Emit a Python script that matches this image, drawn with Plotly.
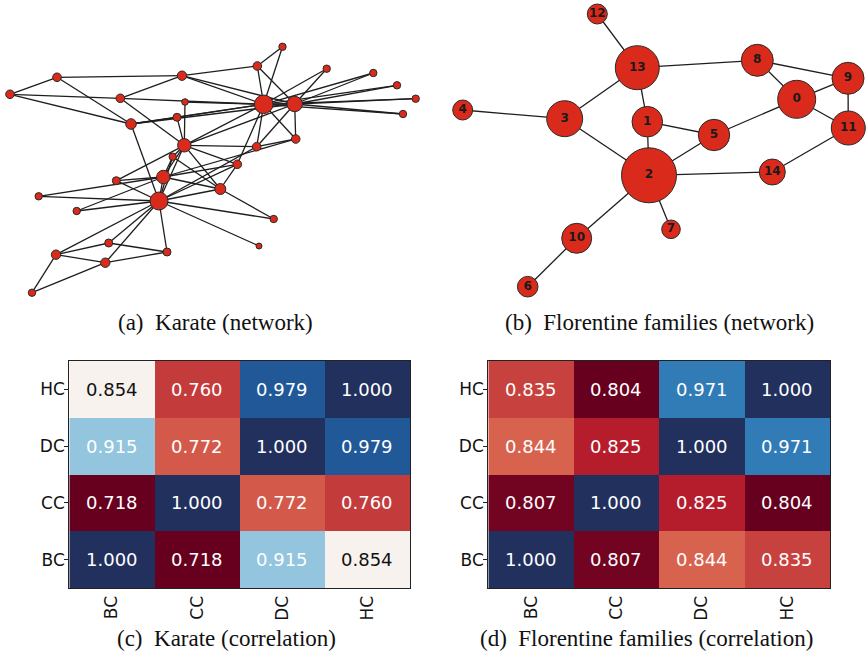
import plotly.graph_objects as go

W, H = 866, 652

# ---------------- Karate network (node layout positions) ----------------
karate_nodes = list(range(1, 35))
karate_x = [159, 163.3, 184.3, 220.3, 167, 56, 105.3, 172.7, 256.7, 185,
            108.7, 259, 273.7, 237.3, 326.7, 373.3, 32, 38.7, 397, 116.3,
            415.7, 76.7, 403, 182, 10, 57, 282.5, 120.3, 177, 257.3,
            295.7, 131, 294.7, 263.7]
karate_y = [201, 177, 145.3, 189, 252, 254.7, 262.7, 156.7, 146.7, 102,
            243, 246, 219, 164.3, 68.7, 73, 292.7, 196.3, 85.3, 180.7,
            98.7, 211, 114, 75.7, 94.3, 77.3, 46.8, 98.3, 117.3, 66,
            139, 124, 104, 104.3]
karate_size = [18, 13.4, 13.4, 11, 8, 9.4, 9.4, 7.4, 8.6, 6.6,
               8, 6, 7.4, 8.6, 7.4, 7.4, 7.4, 7.4, 7.4, 8,
               7.4, 7.4, 7.4, 9.4, 8.6, 8.6, 7.4, 8.6, 8, 8.6,
               8.6, 10.6, 15.4, 18.6]
karate_edges = [
    (1, 2), (1, 3), (1, 4), (1, 5), (1, 6), (1, 7), (1, 8), (1, 9), (1, 11), (1, 12),
    (1, 13), (1, 14), (1, 18), (1, 20), (1, 22), (1, 32),
    (2, 3), (2, 4), (2, 8), (2, 14), (2, 18), (2, 20), (2, 22), (2, 31),
    (3, 4), (3, 8), (3, 9), (3, 10), (3, 14), (3, 28), (3, 29), (3, 33),
    (4, 8), (4, 13), (4, 14),
    (5, 7), (5, 11), (6, 7), (6, 11), (6, 17), (7, 17),
    (9, 31), (9, 33), (9, 34), (10, 34), (14, 34),
    (15, 33), (15, 34), (16, 33), (16, 34), (19, 33), (19, 34), (20, 34),
    (21, 33), (21, 34), (23, 33), (23, 34),
    (24, 26), (24, 28), (24, 30), (24, 33), (24, 34),
    (25, 26), (25, 28), (25, 32), (26, 32), (27, 30), (27, 34), (28, 34),
    (29, 32), (29, 34), (30, 33), (30, 34), (31, 33), (31, 34),
    (32, 33), (32, 34), (33, 34),
]

# ---------------- Florentine families network ----------------
flor_labels = [str(i) for i in range(15)]
flor_x = [796.7, 647.3, 649, 564.7, 462.7, 714, 527.7, 671, 757.3, 848,
          576.7, 848.3, 597.3, 637.3, 772.3]
flor_y = [99.3, 121.7, 175.3, 118.7, 110, 135, 286.7, 229.3, 60.3, 78.3,
          238.3, 128, 14, 67.7, 172]
flor_size = [38, 30.6, 55, 36, 20, 31.4, 20.6, 18.6, 32, 32,
             30, 34, 20, 44, 26]
flor_edges = [
    (12, 13), (13, 8), (13, 3), (13, 1), (8, 9), (8, 0), (0, 9), (0, 11), (9, 11),
    (0, 5), (4, 3), (3, 2), (1, 5), (1, 2), (5, 2), (2, 14), (14, 11), (2, 7),
    (2, 10), (10, 6),
]

# ---------------- Correlation matrices ----------------
measures = ["BC", "CC", "DC", "HC"]
karate_corr = [
    [1.000, 0.718, 0.915, 0.854],
    [0.718, 1.000, 0.772, 0.760],
    [0.915, 0.772, 1.000, 0.979],
    [0.854, 0.760, 0.979, 1.000],
]
flor_corr = [
    [1.000, 0.807, 0.844, 0.835],
    [0.807, 1.000, 0.825, 0.804],
    [0.844, 0.825, 1.000, 0.971],
    [0.835, 0.804, 0.971, 1.000],
]

captions = ["(a)\u2002Karate (network)", "(b)\u2002Florentine families (network)",
            "(c)\u2002Karate (correlation)", "(d)\u2002Florentine families (correlation)"]

rdbu = ["rgb(103,0,31)", "rgb(178,24,43)", "rgb(214,96,77)", "rgb(244,165,130)",
        "rgb(253,219,199)", "rgb(247,247,247)", "rgb(209,229,240)", "rgb(146,197,222)",
        "rgb(67,147,195)", "rgb(33,102,172)", "rgb(34,48,94)"]
colorscale = [[i / 10, c] for i, c in enumerate(rdbu)]

NODE = "#da2a1b"
EDGE = "#1e1e1e"

fig = go.Figure()


def edge_xy(edges, xs, ys, offset):
    ex, ey = [], []
    for a, b in edges:
        ex += [xs[a - offset], xs[b - offset], None]
        ey += [ys[a - offset], ys[b - offset], None]
    return ex, ey


ex, ey = edge_xy(karate_edges, karate_x, karate_y, 1)
fig.add_trace(go.Scatter(x=ex, y=ey, mode="lines", line=dict(color=EDGE, width=1.3),
                         hoverinfo="skip", showlegend=False, xaxis="x", yaxis="y"))
fig.add_trace(go.Scatter(x=karate_x, y=karate_y, mode="markers", text=[str(n) for n in karate_nodes],
                         marker=dict(size=karate_size, color=NODE, opacity=1,
                                     line=dict(color="#2a2a2a", width=1)),
                         showlegend=False, xaxis="x", yaxis="y"))

ex, ey = edge_xy(flor_edges, flor_x, flor_y, 0)
fig.add_trace(go.Scatter(x=ex, y=ey, mode="lines", line=dict(color=EDGE, width=1.3),
                         hoverinfo="skip", showlegend=False, xaxis="x2", yaxis="y2"))
fig.add_trace(go.Scatter(x=flor_x, y=flor_y, mode="markers+text", text=flor_labels,
                         textposition="middle center",
                         textfont=dict(family="DejaVu Sans", size=12, color="#1a1a1a", weight="bold"),
                         marker=dict(size=flor_size, color=NODE, opacity=1,
                                     line=dict(color="#2a2a2a", width=1)),
                         showlegend=False, xaxis="x2", yaxis="y2"))


def add_heat(z, xa, ya):
    flat = [v for row in z for v in row]
    zmin, zmax = min(flat), max(flat)
    fig.add_trace(go.Heatmap(z=z, x=measures, y=measures, colorscale=colorscale,
                             zmin=zmin, zmax=zmax, showscale=False, xgap=0, ygap=0,
                             xaxis=xa, yaxis=ya))
    for i, yl in enumerate(measures):
        for j, xl in enumerate(measures):
            v = z[i][j]
            frac = (v - zmin) / (zmax - zmin)
            col = "#111111" if abs(frac - 0.5) < 0.1 else "white"
            fig.add_annotation(x=xl, y=yl, xref=xa, yref=ya, text=f"{v:.3f}", showarrow=False,
                               font=dict(family="DejaVu Sans", size=18, color=col))


add_heat(karate_corr, "x3", "y3")
add_heat(flor_corr, "x4", "y4")

net_ax = dict(visible=False, showgrid=False, zeroline=False, fixedrange=True)
top_dom = [1 - 310 / H, 1]
heat_ydom = [1 - 588 / H, 1 - 361 / H]
heat_ax = dict(showline=True, linecolor="#222", linewidth=1.2, mirror=True, showgrid=False,
               zeroline=False, tickfont=dict(family="DejaVu Sans", size=17, color="#111"),
               ticks="outside", ticklen=4, tickcolor="#222")
right_ticks = dict(side="right", range=[-0.5, len(measures) - 0.5],
                   tickvals=list(range(len(measures))), ticks="inside", ticklen=4,
                   tickcolor="#222", showticklabels=False, showgrid=False, zeroline=False,
                   showline=False)

fig.update_layout(
    width=W, height=H, margin=dict(l=0, r=0, t=0, b=0),
    paper_bgcolor="white", plot_bgcolor="white",
    xaxis=dict(domain=[0, 433 / W], range=[0, 433], **net_ax),
    yaxis=dict(domain=top_dom, range=[310, 0], **net_ax),
    xaxis2=dict(domain=[433 / W, 1], range=[433, 866], **net_ax),
    yaxis2=dict(domain=top_dom, range=[310, 0], **net_ax),
    xaxis3=dict(domain=[69.3 / W, 410 / W], anchor="y3", tickangle=-90, **heat_ax),
    yaxis3=dict(domain=heat_ydom, anchor="x3", ticklabelstandoff=-4, **heat_ax),
    xaxis4=dict(domain=[488.3 / W, 830 / W], anchor="y4", tickangle=-90, **heat_ax),
    yaxis4=dict(domain=heat_ydom, anchor="x4", ticklabelstandoff=-4, **heat_ax),
    yaxis5=dict(overlaying="y3", anchor="x3", **right_ticks),
    yaxis6=dict(overlaying="y4", anchor="x4", **right_ticks),
)
fig.update_xaxes(ticks="", selector=dict(anchor="y3"))
fig.update_xaxes(ticks="", selector=dict(anchor="y4"))

cap_pos = [(215, 322), (659, 322), (226.5, 638), (646, 638)]
for text, (cx, cy) in zip(captions, cap_pos):
    fig.add_annotation(x=cx / W, y=1 - cy / H, xref="paper", yref="paper", text=text,
                       showarrow=False, xanchor="center", yanchor="middle",
                       font=dict(family="Liberation Serif", size=23, color="#111"))

fig.write_html("out.html", config={"displayModeBar": False},
               post_script="document.body.style.margin='0';document.body.style.overflow='hidden';")
